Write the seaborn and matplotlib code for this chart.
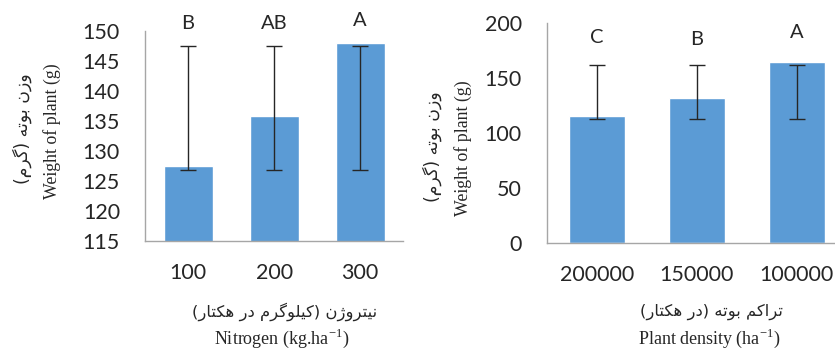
import numpy as np
import pandas as pd
import matplotlib
matplotlib.use("Agg")
import matplotlib.pyplot as plt
import seaborn as sns

# data
nitrogen = ['100', '200', '300']
weight_n = [127.55, 135.8, 148.05]
err_low_n = [126.8, 126.8, 126.8]
err_high_n = [147.5, 147.5, 147.5]
letters_n = ['B', 'AB', 'A']
letter_y_n = [151.3, 151.3, 151.7]

density = ['200000', '150000', '100000']
weight_d = [115.4, 131.9, 164.4]
err_low_d = [112.7, 112.7, 112.7]
err_high_d = [162.0, 162.0, 162.0]
letters_d = ['C', 'B', 'A']
letter_y_d = [186.7, 185.0, 192.0]

ylabel_fa = 'وزن بوته (گرم)'
xlabel_fa_n = 'نیتروژن (کیلوگرم در هکتار)'
xlabel_fa_d = 'تراکم بوته (در هکتار)'

# simple persian shaping (matplotlib has no bidi / joining)
FORMS = {  # iso, fin, ini, med
    'ا': ('\uFE8D', '\uFE8E', None, None),
    'ب': ('\uFE8F', '\uFE90', '\uFE91', '\uFE92'),
    'ت': ('\uFE95', '\uFE96', '\uFE97', '\uFE98'),
    'د': ('\uFEA9', '\uFEAA', None, None),
    'ر': ('\uFEAD', '\uFEAE', None, None),
    'ژ': ('\uFB8A', '\uFB8B', None, None),
    'ل': ('\uFEDD', '\uFEDE', '\uFEDF', '\uFEE0'),
    'م': ('\uFEE1', '\uFEE2', '\uFEE3', '\uFEE4'),
    'ن': ('\uFEE5', '\uFEE6', '\uFEE7', '\uFEE8'),
    'ه': ('\uFEE9', '\uFEEA', '\uFEEB', '\uFEEC'),
    'و': ('\uFEED', '\uFEEE', None, None),
    'ی': ('\uFBFC', '\uFBFD', '\uFBFE', '\uFBFF'),
    'ک': ('\uFB8E', '\uFB8F', '\uFB90', '\uFB91'),
    'گ': ('\uFB92', '\uFB93', '\uFB94', '\uFB95'),
}

def shape(s):
    out = []
    for i, c in enumerate(s):
        if c not in FORMS:
            out.append(c)
            continue
        prev = s[i - 1] if i > 0 else ''
        nxt = s[i + 1] if i < len(s) - 1 else ''
        join_prev = prev in FORMS and FORMS[prev][2] is not None
        join_next = nxt in FORMS and FORMS[c][2] is not None
        f = FORMS[c]
        if join_prev and join_next:
            out.append(f[3])
        elif join_prev:
            out.append(f[1])
        elif join_next:
            out.append(f[2])
        else:
            out.append(f[0])
    vis = ''.join(out)[::-1]
    return vis.translate(str.maketrans('()', ')('))

sns.set_style("white")
plt.rcParams['font.family'] = ['Lato', 'DejaVu Sans']

fig = plt.figure(figsize=(8.35, 3.51), dpi=100)
ax1 = fig.add_axes([0.1737, 0.3134, 0.3091, 0.5983])
ax2 = fig.add_axes([0.6547, 0.3085, 0.3593, 0.6250])

bar_color = '#5b9bd5'
grey = '#a6a6a6'

def draw(ax, cats, vals, lo, hi, letters, ly, ylim, yticks, width):
    df = pd.DataFrame({'cat': cats, 'val': vals})
    sns.barplot(data=df, x='cat', y='val', order=cats, color=bar_color,
                saturation=1, width=width, ax=ax)
    lo = np.array(lo)
    hi = np.array(hi)
    ax.errorbar(np.arange(len(cats)), (lo + hi) / 2, yerr=(hi - lo) / 2,
                fmt='none', ecolor='#262626', elinewidth=1, capsize=6,
                capthick=1)
    for i, (t, y) in enumerate(zip(letters, ly)):
        ax.text(i, y, t, ha='center', va='center', fontsize=14.5,
                clip_on=False)
    ax.set_ylim(*ylim)
    ax.set_yticks(yticks)
    ax.set_xlim(-0.5, len(cats) - 0.5)
    ax.set_xticks([-0.5] + list(np.arange(len(cats)) + 0.5), minor=True)
    ax.tick_params(axis='x', which='major', length=0, pad=16, labelsize=15.5)
    ax.tick_params(axis='x', which='minor', length=7, width=1, color=grey,
                   direction='out')
    ax.tick_params(axis='y', length=0, pad=18, labelsize=15.5)
    ax.set_xlabel('')
    ax.set_ylabel('')
    for sp in ['top', 'right']:
        ax.spines[sp].set_visible(False)
    for sp in ['left', 'bottom']:
        ax.spines[sp].set_color(grey)
        ax.spines[sp].set_linewidth(1)

draw(ax1, nitrogen, weight_n, err_low_n, err_high_n, letters_n, letter_y_n,
     (115, 150), range(115, 151, 5), 0.57)
draw(ax2, density, weight_d, err_low_d, err_high_d, letters_d, letter_y_d,
     (0, 200), range(0, 201, 50), 0.56)

serif = ['Liberation Serif', 'DejaVu Sans']
fa = ['DejaVu Sans']

# left panel titles
fig.text(0.3413, 0.1111, shape(xlabel_fa_n), ha='center', va='center',
         fontsize=11.8, family=fa)
fig.text(0.3377, 0.0350, 'Nitrogen (kg.ha$^{\\mathregular{-1}}$)',
         ha='center', va='center', fontsize=13, family=serif)
fig.text(0.0623, 0.6268, 'Weight of plant (g)', rotation=90, ha='center',
         va='center', fontsize=12.8, family=serif)
fig.text(0.0263, 0.6325, shape(ylabel_fa), rotation=90, ha='center',
         va='center', fontsize=12.5, family=fa)

# right panel titles
fig.text(0.8515, 0.1111, shape(xlabel_fa_d), ha='center', va='center',
         fontsize=11.8, family=fa)
fig.text(0.8491, 0.0350, 'Plant density (ha$^{\\mathregular{-1}}$)',
         ha='center', va='center', fontsize=13, family=serif)
fig.text(0.5545, 0.5783, 'Weight of plant (g)', rotation=90, ha='center',
         va='center', fontsize=12.8, family=serif)
fig.text(0.5174, 0.5812, shape(ylabel_fa), rotation=90, ha='center',
         va='center', fontsize=12.5, family=fa)

plt.savefig('out.png', dpi=100)
